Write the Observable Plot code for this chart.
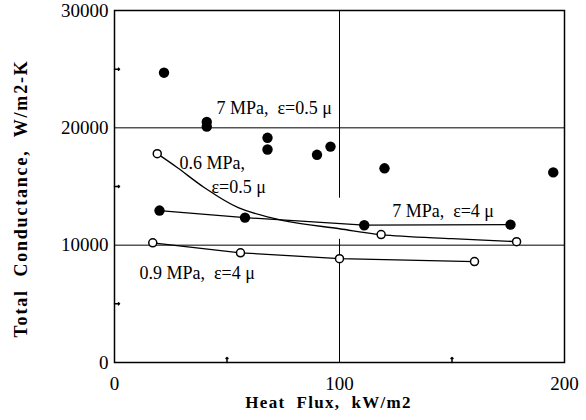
<!DOCTYPE html>
<html><head><meta charset="utf-8">
<script src="https://cdn.jsdelivr.net/npm/d3@7"></script>
<script src="https://cdn.jsdelivr.net/npm/@observablehq/plot@0.6"></script>
<style>body{margin:0;background:#fff} svg{display:block}</style>
</head><body><div id="chart"></div>
<script>
// ---- axes ----
const xDomain = [0, 200];
const yDomain = [0, 30000];
const xTickLabels = [0, 100, 200];
const yTickLabels = [0, 10000, 20000, 30000];
const xMinorTicks = [50, 150];
const yMinorTicks = [5000, 15000, 25000];
const hGrid = [10000, 20000];
const vGrid = 100;
const vGridSegments = [[0, 10500], [14000, 30000]];
const xTitle = "Heat  Flux,  kW/m2";
const yTitle = "Total  Conductance,  W/m2-K";

// ---- series ----
// 7 MPa, ε=0.5 μ (filled, no line)
const s7a_x = [22, 41, 41, 68, 68, 90, 96, 120, 195];
const s7a_y = [24700, 20500, 20100, 19150, 18150, 17700, 18400, 16550, 16200];
// 7 MPa, ε=4 μ (filled, connected)
const s7b_x = [20, 58, 111, 176];
const s7b_y = [12950, 12350, 11700, 11750];
// 0.6 MPa, ε=0.5 μ (open)
const s06_x = [19, 118.5, 178.7];
const s06_y = [17800, 10900, 10300];
// 0.6 MPa fitted curve
const s06c_x = [19, 28, 40, 55, 75, 100, 118.5, 150, 178.7];
const s06c_y = [17800, 16600, 14900, 13200, 12100, 11400, 10900, 10550, 10300];
// 0.9 MPa, ε=4 μ (open, connected)
const s09_x = [17, 56, 100, 160];
const s09_y = [10200, 9350, 8850, 8600];

// ---- annotations ----
const annText = ["7 MPa,  ε=0.5 μ", "0.6 MPa,", "ε=0.5 μ", "7 MPa,  ε=4 μ", "0.9 MPa,  ε=4 μ"];
const annX = [45.3, 28.9, 43.1, 123.4, 11.1];
const annY = [21650, 16960, 14920, 12870, 7590];

const pts = (xs, ys) => xs.map((x, i) => ({x, y: ys[i]}));
const ann = annText.map((t, i) => ({t, x: annX[i], y: annY[i]}));
const serif = "'Liberation Serif', 'Times New Roman', serif";

const chart = Plot.plot({
  width: 586, height: 420,
  marginLeft: 114, marginRight: 22, marginTop: 10, marginBottom: 58,
  style: {fontFamily: serif, background: "white", color: "black"},
  x: {domain: xDomain},
  y: {domain: yDomain},
  marks: [
    Plot.ruleY(hGrid, {stroke: "black", strokeWidth: 1}),
    Plot.ruleX(vGridSegments, {x: () => vGrid, y1: d => d[0], y2: d => d[1], stroke: "black", strokeWidth: 1}),
    Plot.vector(yMinorTicks, {x: () => xDomain[0], y: d => d, length: 5, rotate: 90, anchor: "start", stroke: "black"}),
    Plot.vector(xMinorTicks, {x: d => d, y: () => yDomain[0], length: 5, rotate: 0, anchor: "start", stroke: "black"}),
    Plot.frame({stroke: "black", strokeWidth: 1.5}),
    Plot.axisX({ticks: xTickLabels, tickSize: 0, tickPadding: 14, fontSize: 19, label: null, tickFormat: d => String(d)}),
    Plot.axisY({ticks: yTickLabels, tickSize: 0, tickPadding: 6, fontSize: 19, label: null, tickFormat: d => String(d)}),
    Plot.line(pts(s06c_x, s06c_y), {x: "x", y: "y", curve: "catmull-rom", stroke: "black", strokeWidth: 1.3}),
    Plot.line(pts(s7b_x, s7b_y), {x: "x", y: "y", stroke: "black", strokeWidth: 1.3}),
    Plot.line(pts(s09_x, s09_y), {x: "x", y: "y", stroke: "black", strokeWidth: 1.3}),
    Plot.dot(pts(s7a_x, s7a_y), {x: "x", y: "y", r: 5.2, fill: "black"}),
    Plot.dot(pts(s7b_x, s7b_y), {x: "x", y: "y", r: 5.2, fill: "black"}),
    Plot.dot(pts(s06_x, s06_y), {x: "x", y: "y", r: 4, fill: "white", stroke: "black", strokeWidth: 1.5}),
    Plot.dot(pts(s09_x, s09_y), {x: "x", y: "y", r: 4, fill: "white", stroke: "black", strokeWidth: 1.5}),
    Plot.text(ann, {x: "x", y: "y", text: "t", textAnchor: "start", fontSize: 18, fill: "black"}),
    Plot.text([xTitle], {text: d => d, frameAnchor: "bottom", textAnchor: "middle", dy: 45, dx: -11, fontSize: 17, fontWeight: "bold", fill: "black"}),
    Plot.text([yTitle], {text: d => d, frameAnchor: "left", textAnchor: "middle", dx: -93, dy: 12, rotate: -90, fontSize: 18, fontWeight: "bold", fill: "black"})
  ]
});
chart.querySelectorAll("text").forEach(t => {
  if (t.textContent === xTitle) t.style.letterSpacing = "1.3px";
  if (t.textContent === yTitle) t.style.letterSpacing = "1.8px";
});
document.getElementById("chart").appendChild(chart);
</script>
</body></html>
